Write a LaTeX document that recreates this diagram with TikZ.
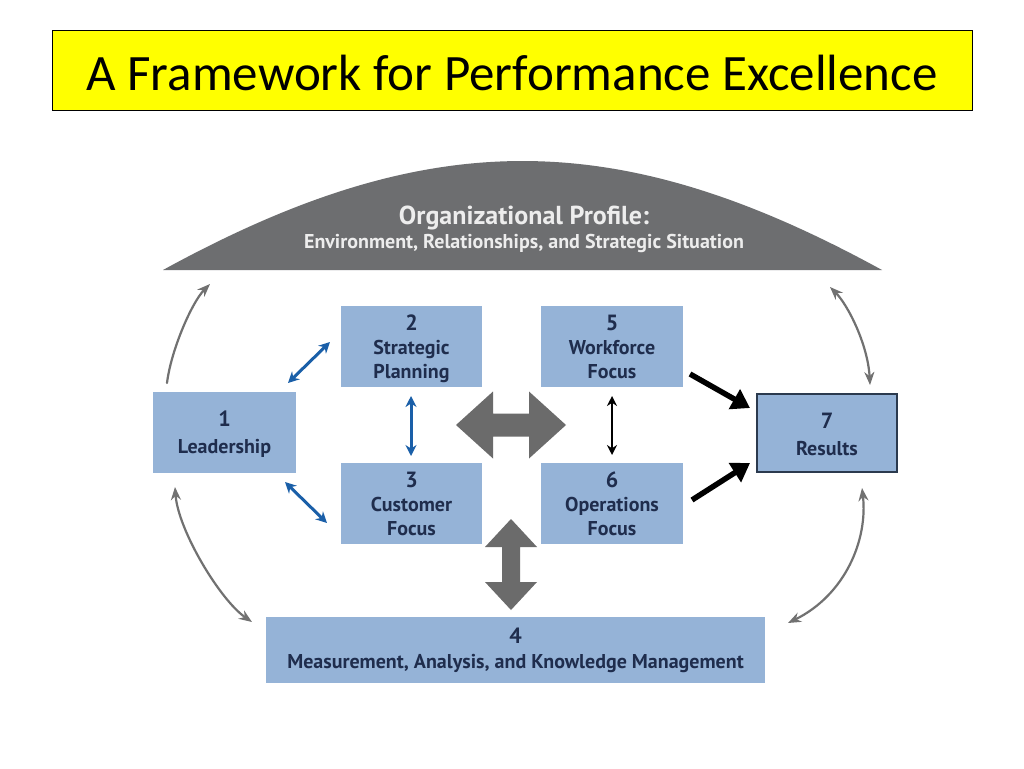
\documentclass[tikz,border=0pt]{standalone}
\usepackage{fontspec}
\setmainfont{PT Sans}
\newfontfamily\titlefont{Carlito}
\usetikzlibrary{arrows.meta}
\definecolor{boxfill}{HTML}{95B3D7}
\definecolor{navy}{HTML}{1F2D4D}
\definecolor{profgray}{HTML}{6D6E70}
\definecolor{proftext}{HTML}{EDEDED}
\definecolor{bigarrow}{HTML}{6B6B6B}
\definecolor{arcgray}{HTML}{717171}
\definecolor{bluearrow}{HTML}{1A5FA8}
\definecolor{resborder}{HTML}{2B3A4E}
\definecolor{titleyellow}{HTML}{FFFF00}
\newcommand{\bignum}[1]{{\fontsize{22}{24}\selectfont #1}}
\tikzset{
  cbox/.style={fill=boxfill, text=navy, font=\bfseries\fontsize{20}{24}\selectfont,
    align=center, inner sep=0pt, minimum width=142pt, minimum height=81pt,
    text height=68pt, text depth=5pt},
  cboxtwo/.style={cbox, text height=46pt},
  arcarrow/.style={draw=arcgray, line width=2.2pt, line cap=round},
  bluelink/.style={draw=bluearrow, line width=3pt, {Stealth[length=11pt,width=11pt]}-{Stealth[length=11pt,width=11pt]}},
  blacklink/.style={draw=black, line width=2.2pt, {Stealth[length=10pt,width=10pt]}-{Stealth[length=10pt,width=10pt]}},
  thicklink/.style={draw=black, line width=5.5pt, -{Triangle[length=18pt,width=22pt]}},
  bigshape/.style={fill=bigarrow}
}
\begin{document}
\begin{tikzpicture}[x=1pt,y=-1pt]
\useasboundingbox[fill=white] (0,0) rectangle (1024,768);

% title
\node[draw=black, line width=1pt, fill=titleyellow, minimum width=920pt, minimum height=80pt,
  inner sep=0pt, anchor=north west] (titlebox) at (52,30) {};
\node[font=\titlefont\fontsize{51}{60}\selectfont, anchor=base] (title) at (512,90)
  {A Framework for Performance Excellence};

% organizational profile
\fill[profgray] (163,270) .. controls (428,124.7) and (617,124.7) .. (882,270) -- cycle;
\node[text=proftext, font=\bfseries\fontsize{26}{30}\selectfont, anchor=base] (prof) at (524,224)
  {Organizational Profile:};
\node[text=proftext, font=\bfseries\fontsize{20}{24}\selectfont, anchor=base] (profsub) at (524,248)
  {Environment, Relationships, and Strategic Situation};

% boxes
\node[cboxtwo, minimum width=143pt] (lead) at (224.5,432.5) {\bignum{1}\\[3pt]Leadership};
\node[cbox, minimum width=141pt] (strat) at (411.5,346.5) {\bignum{2}\\Strategic\\Planning};
\node[cbox, minimum width=141pt] (cust) at (411.5,503.5) {\bignum{3}\\Customer\\Focus};
\node[cbox] (work) at (612,346.5) {\bignum{5}\\Workforce\\Focus};
\node[cbox] (oper) at (612,503.5) {\bignum{6}\\Operations\\Focus};
\node[cboxtwo, text height=49pt, draw=resborder, line width=2pt, minimum width=140pt, minimum height=78pt] (res) at (827,433) {\bignum{7}\\[3pt]Results};
\node[cboxtwo, text height=41pt, minimum width=499pt, minimum height=66pt] (meas) at (515.5,650)
  {\bignum{4}\\[1pt]Measurement, Analysis, and Knowledge Management};

% big gray double arrows
\fill[bigshape] (456,425) -- (493,391.5) -- (493,413.5) -- (529,413.5) -- (529,391.5) -- (566,425)
  -- (529,458.5) -- (529,436.5) -- (493,436.5) -- (493,458.5) -- cycle;
\fill[bigshape] (511,519) -- (537,547) -- (520,547) -- (520,582) -- (537,582) -- (511,610)
  -- (485,582) -- (502,582) -- (502,547) -- (485,547) -- cycle;

% blue arrows
\coordinate (b12a) at (288,383); \coordinate (b12b) at (330,342);
\coordinate (b13a) at (285,482); \coordinate (b13b) at (327,523);
\coordinate (b23a) at (411,396); \coordinate (b23b) at (411,456);
\draw[bluelink] (b12a) -- (b12b);
\draw[bluelink] (b13a) -- (b13b);
\draw[bluelink] (b23a) -- (b23b);

% black arrows
\coordinate (k56a) at (612,396); \coordinate (k56b) at (612,455);
\draw[blacklink] (k56a) -- (k56b);
\coordinate (k57a) at (690,374); \coordinate (k57b) at (750,408);
\coordinate (k67a) at (692,500); \coordinate (k67b) at (750,463);
\draw[thicklink] (k57a) -- (k57b);
\draw[thicklink] (k67a) -- (k67b);

% outer arcs
\coordinate (tlA) at (167,383); \coordinate (tlB) at (210,284);
\coordinate (blA) at (175,487); \coordinate (blB) at (252,622);
\coordinate (trA) at (830,287); \coordinate (trB) at (870,385);
\coordinate (brA) at (862,488); \coordinate (brB) at (788,623);
\draw[arcarrow, -{Stealth[length=13pt,width=10pt]}] (tlA) .. controls (171,350) and (192,302) .. (tlB);
\draw[arcarrow, {Stealth[length=13pt,width=10pt]}-{Stealth[length=13pt,width=10pt]}] (blA) .. controls (178,530) and (220,600) .. (blB);
\draw[arcarrow, {Stealth[length=13pt,width=10pt]}-{Stealth[length=13pt,width=10pt]}] (trA) .. controls (848,305) and (868,345) .. (trB);
\draw[arcarrow, {Stealth[length=13pt,width=10pt]}-{Stealth[length=13pt,width=10pt]}] (brA) .. controls (868,540) and (845,595) .. (brB);
\end{tikzpicture}
\end{document}
